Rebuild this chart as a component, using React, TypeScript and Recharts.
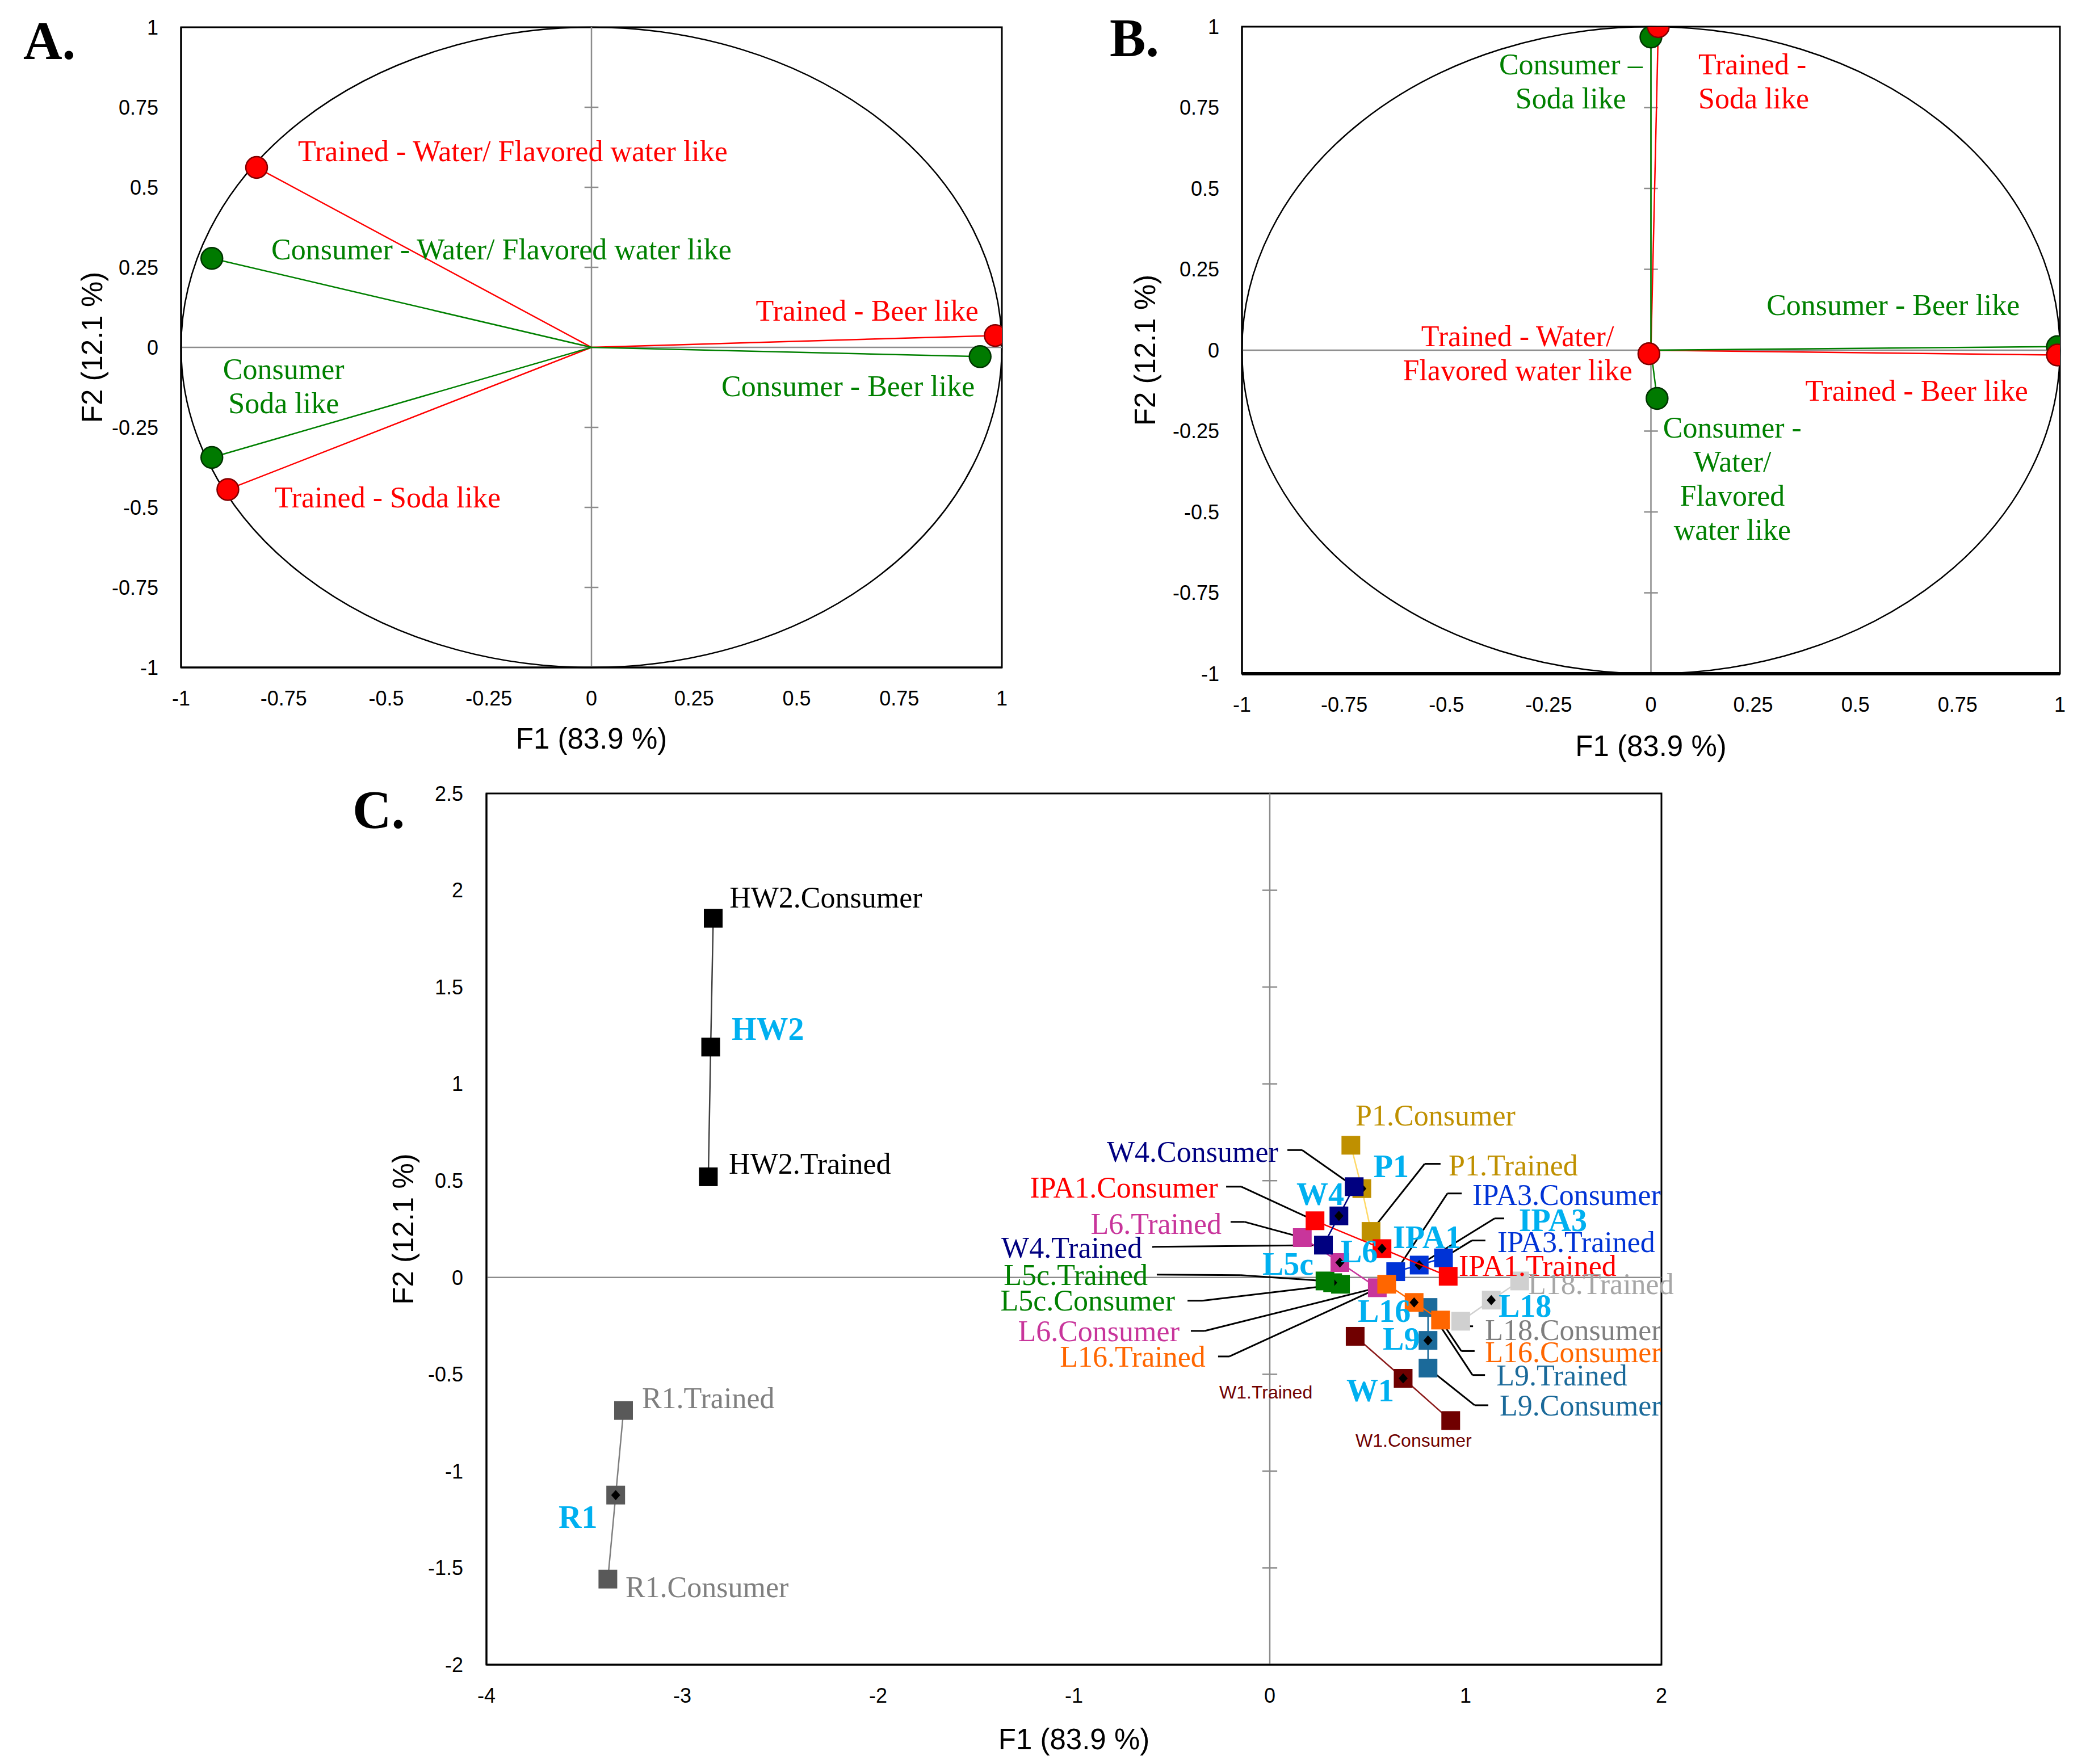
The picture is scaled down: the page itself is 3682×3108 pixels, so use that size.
import React from "react";
import { ScatterChart, Scatter, XAxis, YAxis, ReferenceLine, ReferenceArea, ReferenceDot } from "recharts";

const SERIF = '"Liberation Serif", "Times New Roman", serif';
const SANS = '"Liberation Sans", Arial, sans-serif';

// ---------- Panel A : correlation circle (variables) ----------
// order: Water/ Flavored water like, Beer like, Soda like
const aTrainedF1 = [-0.816, 0.984, -0.886];
const aTrainedF2 = [0.562, 0.037, -0.444];
const aConsumerF1 = [-0.925, 0.947, -0.925];
const aConsumerF2 = [0.278, -0.029, -0.344];

// ---------- Panel B ----------
const bTrainedF1 = [-0.005, 0.994, 0.018];
const bTrainedF2 = [-0.011, -0.015, 1.0];
const bConsumerF1 = [0.015, 0.994, 0.0];
const bConsumerF2 = [-0.149, 0.011, 0.968];

const unitTicks = [-1, -0.75, -0.5, -0.25, 0, 0.25, 0.5, 0.75, 1];

// ---------- Panel C : observations (products) ----------
const products = ["HW2", "R1", "P1", "W4", "IPA1", "L6", "L5c", "IPA3", "L16", "L9", "L18", "W1"];
const consumerF1 = [-2.842, -3.38, 0.414, 0.431, 0.231, 0.549, 0.361, 0.643, 0.872, 0.808, 0.975, 0.924];
const consumerF2 = [1.855, -1.558, 0.683, 0.469, 0.293, -0.053, -0.035, 0.03, -0.22, -0.468, -0.226, -0.739];
const meanF1 = [-2.855, -3.34, 0.47, 0.353, 0.573, 0.358, 0.321, 0.763, 0.737, 0.808, 1.131, 0.681];
const meanF2 = [1.19, -1.124, 0.459, 0.318, 0.149, 0.077, -0.027, 0.064, -0.129, -0.325, -0.117, -0.521];
const trainedF1 = [-2.867, -3.3, 0.517, 0.274, 0.911, 0.166, 0.282, 0.887, 0.597, 0.808, 1.276, 0.436];
const trainedF2 = [0.52, -0.687, 0.238, 0.167, 0.006, 0.206, -0.018, 0.101, -0.035, -0.155, -0.018, -0.304];

const cTicksX = [-4, -3, -2, -1, 0, 1, 2];
const cTicksY = [-2, -1.5, -1, -0.5, 0, 0.5, 1, 1.5, 2, 2.5];

const productColor: Record<string, [string, string]> = {
  // [square, connecting line]
  HW2: ["#000000", "#404040"],
  R1: ["#595959", "#7f7f7f"],
  P1: ["#bf9000", "#ffd966"],
  W4: ["#000080", "#000080"],
  IPA1: ["#ff0000", "#ff0000"],
  L6: ["#c8359b", "#c8359b"],
  L5c: ["#007a00", "#007a00"],
  IPA3: ["#0033d6", "#0033d6"],
  L16: ["#ff6600", "#ff6600"],
  L9: ["#1b6a9a", "#1b6a9a"],
  L18: ["#d0d0d0", "#d0d0d0"],
  W1: ["#700000", "#8b1a1a"],
};
const drawOrder = ["HW2", "R1", "W1", "L18", "L9", "IPA3", "P1", "L5c", "L6", "IPA1", "W4", "L16"];

type Anchor = "start" | "middle" | "end";
type Note = { lines: string[]; x: number; y: number; anchor: Anchor; color: string };

const labelsA: Note[] = [
  { lines: ["Trained - Water/ Flavored water like"], x: -0.715, y: 0.614, anchor: "start", color: "#ff0000" },
  { lines: ["Consumer - Water/ Flavored water like"], x: -0.78, y: 0.307, anchor: "start", color: "#008000" },
  { lines: ["Trained - Beer like"], x: 0.943, y: 0.115, anchor: "end", color: "#ff0000" },
  { lines: ["Consumer - Beer like"], x: 0.934, y: -0.12, anchor: "end", color: "#008000" },
  { lines: ["Consumer", "Soda like"], x: -0.75, y: -0.121, anchor: "middle", color: "#008000" },
  { lines: ["Trained - Soda like"], x: -0.772, y: -0.468, anchor: "start", color: "#ff0000" },
];

const labelsB: Note[] = [
  { lines: ["Consumer \u2013", "Soda like"], x: -0.196, y: 0.831, anchor: "middle", color: "#008000" },
  { lines: ["Trained -", "Soda like"], x: 0.116, y: 0.831, anchor: "start", color: "#ff0000" },
  { lines: ["Consumer - Beer like"], x: 0.902, y: 0.141, anchor: "end", color: "#008000" },
  { lines: ["Trained - Water/", "Flavored water like"], x: -0.326, y: -0.008, anchor: "middle", color: "#ff0000" },
  { lines: ["Trained - Beer like"], x: 0.922, y: -0.125, anchor: "end", color: "#ff0000" },
  { lines: ["Consumer -", "Water/", "Flavored", "water like"], x: 0.199, y: -0.397, anchor: "middle", color: "#008000" },
];

type CNote = {
  text: string; x: number; y: number; anchor: Anchor; color: string; kind: "reg" | "bold" | "small";
  stub?: [number, number, number, number]; target?: [string, "c" | "m" | "t"];
};
const CYAN = "#00b0f0";
const labelsC: CNote[] = [
  { text: "HW2.Consumer", x: -2.759, y: 1.962, anchor: "start", color: "#000", kind: "reg" },
  { text: "HW2", x: -2.748, y: 1.284, anchor: "start", color: CYAN, kind: "bold" },
  { text: "HW2.Trained", x: -2.762, y: 0.586, anchor: "start", color: "#000", kind: "reg" },
  { text: "R1.Trained", x: -3.206, y: -0.625, anchor: "start", color: "#7f7f7f", kind: "reg" },
  { text: "R1", x: -3.632, y: -1.238, anchor: "start", color: CYAN, kind: "bold" },
  { text: "R1.Consumer", x: -3.29, y: -1.601, anchor: "start", color: "#7f7f7f", kind: "reg" },
  { text: "P1.Consumer", x: 0.438, y: 0.836, anchor: "start", color: "#bf9000", kind: "reg" },
  { text: "W4.Consumer", x: 0.043, y: 0.648, anchor: "end", color: "#000080", kind: "reg", stub: [0.09, 0.658, 0.165, 0.658], target: ["W4", "c"] },
  { text: "P1", x: 0.53, y: 0.575, anchor: "start", color: CYAN, kind: "bold" },
  { text: "P1.Trained", x: 0.913, y: 0.578, anchor: "start", color: "#bf9000", kind: "reg", stub: [0.872, 0.587, 0.791, 0.587], target: ["P1", "t"] },
  { text: "IPA1.Consumer", x: -0.264, y: 0.463, anchor: "end", color: "#ff0000", kind: "reg", stub: [-0.223, 0.469, -0.145, 0.469], target: ["IPA1", "c"] },
  { text: "W4", x: 0.136, y: 0.431, anchor: "start", color: CYAN, kind: "bold" },
  { text: "IPA3.Consumer", x: 1.035, y: 0.425, anchor: "start", color: "#0033d6", kind: "reg", stub: [0.98, 0.434, 0.907, 0.434], target: ["IPA3", "c"] },
  { text: "IPA3", x: 1.272, y: 0.296, anchor: "start", color: CYAN, kind: "bold", stub: [1.197, 0.305, 1.148, 0.305], target: ["IPA3", "m"] },
  { text: "L6.Trained", x: -0.246, y: 0.276, anchor: "end", color: "#c8359b", kind: "reg", stub: [-0.2, 0.287, -0.128, 0.287], target: ["L6", "t"] },
  { text: "IPA1", x: 0.629, y: 0.208, anchor: "start", color: CYAN, kind: "bold" },
  { text: "IPA3.Trained", x: 1.162, y: 0.182, anchor: "start", color: "#0033d6", kind: "reg", stub: [1.101, 0.191, 1.032, 0.191], target: ["IPA3", "t"] },
  { text: "W4.Trained", x: -0.652, y: 0.152, anchor: "end", color: "#000080", kind: "reg", stub: [-0.6, 0.158, -0.6, 0.158], target: ["W4", "t"] },
  { text: "L6", x: 0.362, y: 0.135, anchor: "start", color: CYAN, kind: "bold" },
  { text: "L5c", x: -0.038, y: 0.07, anchor: "start", color: CYAN, kind: "bold" },
  { text: "IPA1.Trained", x: 0.965, y: 0.059, anchor: "start", color: "#ff0000", kind: "reg" },
  { text: "L5c.Trained", x: -0.623, y: 0.012, anchor: "end", color: "#008000", kind: "reg", stub: [-0.577, 0.015, -0.148, 0.012], target: ["L5c", "t"] },
  { text: "L18.Trained", x: 1.319, y: -0.035, anchor: "start", color: "#a6a6a6", kind: "reg" },
  { text: "L5c.Consumer", x: -0.484, y: -0.12, anchor: "end", color: "#008000", kind: "reg", stub: [-0.42, -0.12, -0.345, -0.12], target: ["L5c", "c"] },
  { text: "L18", x: 1.168, y: -0.147, anchor: "start", color: CYAN, kind: "bold" },
  { text: "L16", x: 0.449, y: -0.173, anchor: "start", color: CYAN, kind: "bold" },
  { text: "L18.Consumer", x: 1.099, y: -0.273, anchor: "start", color: "#7f7f7f", kind: "reg", stub: [1.038, -0.252, 0.975, -0.252], target: ["L18", "c"] },
  { text: "L6.Consumer", x: -0.461, y: -0.279, anchor: "end", color: "#c8359b", kind: "reg", stub: [-0.403, -0.276, -0.333, -0.276], target: ["L6", "c"] },
  { text: "L9", x: 0.577, y: -0.317, anchor: "start", color: CYAN, kind: "bold" },
  { text: "L16.Consumer", x: 1.099, y: -0.387, anchor: "start", color: "#ff6600", kind: "reg", stub: [1.046, -0.38, 0.978, -0.38], target: ["L16", "c"] },
  { text: "L16.Trained", x: -0.328, y: -0.41, anchor: "end", color: "#ff6600", kind: "reg", stub: [-0.264, -0.408, -0.206, -0.408], target: ["L16", "t"] },
  { text: "L9.Trained", x: 1.157, y: -0.507, anchor: "start", color: "#1b6a9a", kind: "reg", stub: [1.099, -0.504, 1.035, -0.504], target: ["L9", "t"] },
  { text: "W1", x: 0.391, y: -0.584, anchor: "start", color: CYAN, kind: "bold" },
  { text: "W1.Trained", x: -0.258, y: -0.592, anchor: "start", color: "#700000", kind: "small" },
  { text: "L9.Consumer", x: 1.174, y: -0.663, anchor: "start", color: "#1b6a9a", kind: "reg", stub: [1.116, -0.66, 1.046, -0.66], target: ["L9", "c"] },
  { text: "W1.Consumer", x: 0.438, y: -0.842, anchor: "start", color: "#700000", kind: "small" },
];

const toPoints = (f1: number[], f2: number[]) => f1.map((x, i) => ({ x, y: f2[i] }));

function productPoints(name: string) {
  const i = products.indexOf(name);
  return [
    { x: consumerF1[i], y: consumerF2[i], kind: "c" },
    { x: meanF1[i], y: meanF2[i], kind: "m" },
    { x: trainedF1[i], y: trainedF2[i], kind: "t" },
  ];
}
function pointOf(name: string, kind: string) {
  return productPoints(name).find((p) => p.kind === kind)!;
}

const tickStyle = { fill: "#000", fontSize: 36, fontFamily: SANS };

const noteShape = (n: Note) => (p: any) => {
  const gap = 60;
  const first = (-(n.lines.length - 1) / 2) * gap;
  return (
    <text x={p.cx} y={p.cy} textAnchor={n.anchor} fill={n.color} fontFamily={SERIF} fontSize={52} dominantBaseline="central">
      {n.lines.map((s, i) => (
        <tspan key={i} x={p.cx} dy={i === 0 ? first : gap}>
          {s}
        </tspan>
      ))}
    </text>
  );
};

const cNoteShape = (n: CNote) => (p: any) => {
  const font = n.kind === "small" ? SANS : SERIF;
  const size = n.kind === "bold" ? 56 : n.kind === "small" ? 32 : 52;
  return (
    <text x={p.cx} y={p.cy} textAnchor={n.anchor} fill={n.color} fontFamily={font} fontSize={size} fontWeight={n.kind === "bold" ? 700 : 400} dominantBaseline="central">
      {n.text}
    </text>
  );
};

const xTitle = (dy: number) => (props: any) => {
  const vb = props.viewBox || {};
  return (
    <text x={vb.x + vb.width / 2} y={vb.y + dy} textAnchor="middle" dominantBaseline="central" fontFamily={SANS} fontSize={51} fill="#000">
      F1 (83.9 %)
    </text>
  );
};
const yTitle = (tx: number) => (props: any) => {
  const vb = props.viewBox || {};
  const cy = vb.y + vb.height / 2;
  return (
    <text x={tx} y={cy} transform={`rotate(-90 ${tx} ${cy})`} textAnchor="middle" dominantBaseline="central" fontFamily={SANS} fontSize={51} fill="#000">
      F2 (12.1 %)
    </text>
  );
};

const ellipseShape = (p: any) => (
  <ellipse cx={p.x + p.width / 2} cy={p.y + p.height / 2} rx={p.width / 2} ry={p.height / 2} fill="none" stroke="#000" strokeWidth={2.5} />
);

const dotShape = (fill: string, stroke: string) => (p: any) => (
  <circle cx={p.cx} cy={p.cy} r={19} fill={fill} stroke={stroke} strokeWidth={2.5} />
);

const squareShape = (color: string) => (p: any) => {
  const s = 33;
  return (
    <g>
      <rect x={p.cx - s / 2} y={p.cy - s / 2} width={s} height={s} fill={color} />
      {p.payload && p.payload.kind === "m" && (
        <path d={`M${p.cx} ${p.cy - 9} L${p.cx + 8} ${p.cy} L${p.cx} ${p.cy + 9} L${p.cx - 8} ${p.cy} Z`} fill="#000" />
      )}
    </g>
  );
};

type CircleProps = {
  left: number; width: number; height: number;
  margin: { top: number; right: number; bottom: number; left: number };
  yAxisWidth: number; xAxisHeight: number;
  trained: { x: number; y: number }[]; consumer: { x: number; y: number }[];
  notes: Note[]; xTitleDy: number; yTitleX: number; bottomWidth: number;
};

function CircleChart(props: CircleProps) {
  const { left, width, height, margin, yAxisWidth, xAxisHeight, trained, consumer, notes, xTitleDy, yTitleX, bottomWidth } = props;
  const tickHalf = 0.017;
  return (
    <div style={{ position: "absolute", left, top: 0 }}>
      <ScatterChart width={width} height={height} margin={margin}>
        <XAxis
          type="number" dataKey="x" domain={[-1, 1]} ticks={unitTicks} interval={0} allowDataOverflow
          height={xAxisHeight} tickLine={false} tickSize={0} tickMargin={41}
          axisLine={{ stroke: "#000", strokeWidth: bottomWidth }} tick={tickStyle} label={xTitle(xTitleDy)}
        />
        <YAxis
          type="number" dataKey="y" domain={[-1, 1]} ticks={unitTicks} interval={0} allowDataOverflow
          width={yAxisWidth} tickLine={false} tickSize={0} tickMargin={40}
          axisLine={{ stroke: "#000", strokeWidth: 3 }} tick={tickStyle} label={yTitle(yTitleX)}
        />
        <ReferenceArea x1={-1} x2={1} y1={-1} y2={1} fill="none" stroke="#000" strokeWidth={3} ifOverflow="visible" />
        <ReferenceArea x1={-1} x2={1} y1={-1} y2={1} ifOverflow="visible" shape={ellipseShape} />
        <ReferenceLine x={0} stroke="#8c8c8c" strokeWidth={2.5} />
        <ReferenceLine y={0} stroke="#8c8c8c" strokeWidth={2.5} />
        {unitTicks
          .filter((t) => t !== 0 && Math.abs(t) !== 1)
          .map((t) => (
            <ReferenceLine key={`t${t}`} segment={[{ x: -tickHalf, y: t }, { x: tickHalf, y: t }]} stroke="#8c8c8c" strokeWidth={2.5} />
          ))}
        {trained.map((p, i) => (
          <ReferenceLine key={`tr${i}`} segment={[{ x: 0, y: 0 }, p]} stroke="#ff0000" strokeWidth={2.5} ifOverflow="visible" />
        ))}
        {consumer.map((p, i) => (
          <ReferenceLine key={`co${i}`} segment={[{ x: 0, y: 0 }, p]} stroke="#008000" strokeWidth={2.5} ifOverflow="visible" />
        ))}
        <Scatter data={consumer} shape={dotShape("#007a00", "#003300")} isAnimationActive={false} />
        <Scatter data={trained} shape={dotShape("#ff0000", "#800000")} isAnimationActive={false} />
        {notes.map((n, i) => (
          <ReferenceDot key={`n${i}`} x={n.x} y={n.y} ifOverflow="visible" shape={noteShape(n)} />
        ))}
      </ScatterChart>
    </div>
  );
}

function ObservationChart() {
  const tickHalf = 0.038;
  return (
    <div style={{ position: "absolute", left: 0, top: 1360 }}>
      <ScatterChart width={3682} height={1748} margin={{ top: 38, right: 755, bottom: 0, left: 0 }}>
        <XAxis
          type="number" dataKey="x" domain={[-4, 2]} ticks={cTicksX} interval={0} allowDataOverflow
          height={175} tickLine={false} tickSize={0} tickMargin={41}
          axisLine={{ stroke: "#000", strokeWidth: 3 }} tick={tickStyle} label={xTitle(131)}
        />
        <YAxis
          type="number" dataKey="y" domain={[-2, 2.5]} ticks={cTicksY} interval={0} allowDataOverflow
          width={857} tickLine={false} tickSize={0} tickMargin={41}
          axisLine={{ stroke: "#000", strokeWidth: 3 }} tick={tickStyle} label={yTitle(710)}
        />
        <ReferenceArea x1={-4} x2={2} y1={-2} y2={2.5} fill="none" stroke="#000" strokeWidth={3} ifOverflow="visible" />
        <ReferenceLine x={0} stroke="#8c8c8c" strokeWidth={2.5} />
        <ReferenceLine y={0} stroke="#8c8c8c" strokeWidth={2.5} />
        {cTicksY
          .filter((t) => t !== 0 && t !== -2 && t !== 2.5)
          .map((t) => (
            <ReferenceLine key={`t${t}`} segment={[{ x: -tickHalf, y: t }, { x: tickHalf, y: t }]} stroke="#8c8c8c" strokeWidth={2.5} />
          ))}
        {labelsC
          .filter((n) => n.stub && n.target)
          .map((n, i) => {
            const [x1, y1, x2, y2] = n.stub!;
            const tp = pointOf(n.target![0], n.target![1]);
            return (
              <React.Fragment key={`ld${i}`}>
                {(x1 !== x2 || y1 !== y2) && (
                  <ReferenceLine segment={[{ x: x1, y: y1 }, { x: x2, y: y2 }]} stroke="#000" strokeWidth={3} ifOverflow="visible" />
                )}
                <ReferenceLine segment={[{ x: x2, y: y2 }, { x: tp.x, y: tp.y }]} stroke="#000" strokeWidth={3} ifOverflow="visible" />
              </React.Fragment>
            );
          })}
        {drawOrder.map((name) => (
          <Scatter
            key={name}
            name={name}
            data={productPoints(name)}
            line={{ stroke: productColor[name][1], strokeWidth: 2.5 }}
            shape={squareShape(productColor[name][0])}
            isAnimationActive={false}
          />
        ))}
        {labelsC.map((n, i) => (
          <ReferenceDot key={`c${i}`} x={n.x} y={n.y} ifOverflow="visible" shape={cNoteShape(n)} />
        ))}
      </ScatterChart>
    </div>
  );
}

export default function App() {
  return (
    <div style={{ position: "absolute", left: 0, top: 0, width: 3682, height: 3108, background: "#fff", overflow: "hidden" }}>
      <CircleChart
        left={0} width={1841} height={1360}
        margin={{ top: 48, right: 76, bottom: 0, left: 0 }}
        yAxisWidth={319} xAxisHeight={184}
        trained={toPoints(aTrainedF1, aTrainedF2)} consumer={toPoints(aConsumerF1, aConsumerF2)}
        notes={labelsA} xTitleDy={125} yTitleX={162} bottomWidth={3}
      />
      <CircleChart
        left={1841} width={1841} height={1360}
        margin={{ top: 47, right: 53, bottom: 0, left: 0 }}
        yAxisWidth={347} xAxisHeight={173}
        trained={toPoints(bTrainedF1, bTrainedF2)} consumer={toPoints(bConsumerF1, bConsumerF2)}
        notes={labelsB} xTitleDy={127} yTitleX={176} bottomWidth={6}
      />
      <ObservationChart />
      <svg width={3682} height={3108} style={{ position: "absolute", left: 0, top: 0, pointerEvents: "none" }}>
        <text x={41} y={104} fontFamily={SERIF} fontWeight={700} fontSize={95} fill="#000">A.</text>
        <text x={1955} y={99} fontFamily={SERIF} fontWeight={700} fontSize={95} fill="#000">B.</text>
        <text x={621} y={1459} fontFamily={SERIF} fontWeight={700} fontSize={95} fill="#000">C.</text>
      </svg>
    </div>
  );
}
